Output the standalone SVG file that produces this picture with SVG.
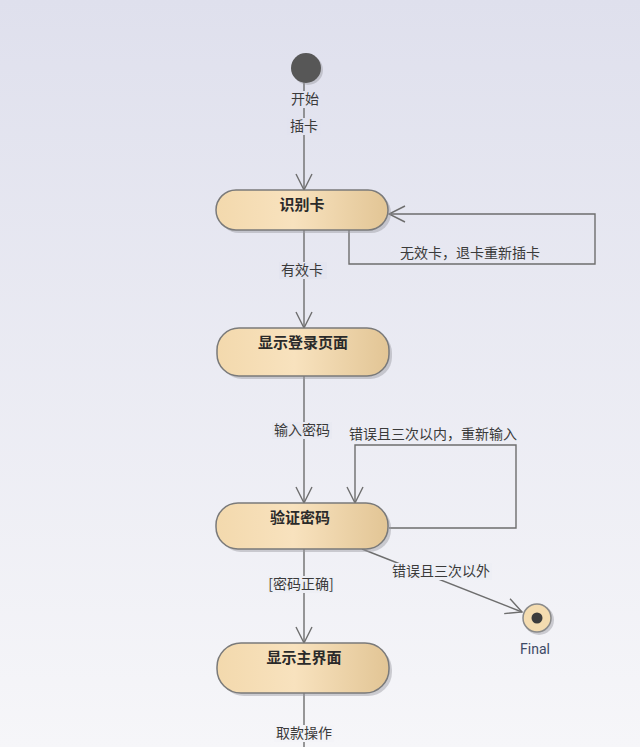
<svg xmlns="http://www.w3.org/2000/svg" width="640" height="747" viewBox="0 0 640 747">
<defs>
<linearGradient id="bg" x1="0" y1="0" x2="0" y2="1">
<stop offset="0" stop-color="#dfe0ed"/>
<stop offset="1" stop-color="#f6f6f9"/>
</linearGradient>
<linearGradient id="nodeFill" x1="0" y1="0" x2="1" y2="0">
<stop offset="0" stop-color="#f3d9ad"/>
<stop offset="0.45" stop-color="#f8e2be"/>
<stop offset="1" stop-color="#e2c595"/>
</linearGradient>
<marker id="arr" viewBox="0 0 20 20" refX="18" refY="10" markerWidth="20" markerHeight="20" markerUnits="userSpaceOnUse" orient="auto">
<path d="M2,2 L18,10 L2,18" fill="none" stroke="#6e6e6e" stroke-width="1.4"/>
</marker>
</defs>
<style>
.node rect.body{fill:url(#nodeFill);stroke:#7a7a7a;stroke-width:1.5}
.node rect.shadow{fill:#9a9aa0;opacity:0.45}
.nt{font-family:"Noto Sans CJK SC","Noto Sans",sans-serif;font-size:15px;font-weight:bold;fill:#2a2a2a;text-anchor:middle}
.lbl{font-family:"Noto Sans CJK SC","Noto Sans",sans-serif;font-size:14px;fill:#3a3a3a;text-anchor:middle}
.conn path,.conn line{fill:none;stroke:#6e6e6e;stroke-width:1.4}
</style>
<rect width="640" height="747" fill="url(#bg)"/>

<g id="connectors" class="conn">
<line x1="304" y1="82" x2="304" y2="190" marker-end="url(#arr)"/>
<path d="M349,230 V264 H595 V214 H389" marker-end="url(#arr)"/>
<line x1="304" y1="230" x2="304" y2="328" marker-end="url(#arr)"/>
<line x1="304" y1="376" x2="304" y2="503" marker-end="url(#arr)"/>
<path d="M389,528 H516 V445 H355 V503" marker-end="url(#arr)"/>
<line x1="362" y1="549" x2="522" y2="612" marker-end="url(#arr)"/>
<line x1="304" y1="549" x2="304" y2="643" marker-end="url(#arr)"/>
<line x1="304" y1="693" x2="304" y2="747"/>
</g>

<g id="labels">
<rect x="288" y="91" width="34" height="17" fill="#e2e3ef"/>
<text class="lbl" x="305" y="104">开始</text>
<rect x="287" y="118" width="34" height="17" fill="#e2e3ef"/>
<text class="lbl" x="304" y="131">插卡</text>
<text class="lbl" x="470" y="258">无效卡，退卡重新插卡</text>
<rect x="279" y="262" width="48" height="17" fill="#e4e5f0"/>
<text class="lbl" x="302" y="275">有效卡</text>
<rect x="272" y="422" width="60" height="17" fill="#e9eaf2"/>
<text class="lbl" x="302" y="435">输入密码</text>
<text class="lbl" x="433" y="439">错误且三次以内，重新输入</text>
<rect x="390" y="563" width="102" height="17" fill="#eeeff5"/>
<text class="lbl" x="441" y="576">错误且三次以外</text>
<rect x="268" y="576" width="66" height="17" fill="#eeeff5"/>
<text class="lbl" x="301" y="589">[密码正确]</text>
<rect x="274" y="725" width="60" height="17" fill="#f4f4f8"/>
<text class="lbl" x="304" y="738">取款操作</text>
</g>

<g id="start">
<circle cx="308" cy="70" r="15" fill="#9a9aa0" opacity="0.45"/>
<circle cx="306" cy="68" r="15" fill="#575757"/>
</g>

<g id="n1" class="node">
<rect class="shadow" x="219" y="193" width="172" height="40" rx="20"/>
<rect class="body" x="216" y="190" width="172" height="40" rx="20"/>
<text class="nt" x="302" y="210">识别卡</text>
</g>

<g id="n2" class="node">
<rect class="shadow" x="220" y="331" width="172" height="48" rx="22"/>
<rect class="body" x="217" y="328" width="172" height="48" rx="22"/>
<text class="nt" x="303" y="348">显示登录页面</text>
</g>

<g id="n3" class="node">
<rect class="shadow" x="219" y="506" width="172" height="46" rx="22"/>
<rect class="body" x="216" y="503" width="172" height="46" rx="22"/>
<text class="nt" x="300" y="523">验证密码</text>
</g>

<g id="n4" class="node">
<rect class="shadow" x="220" y="646" width="172" height="50" rx="24"/>
<rect class="body" x="217" y="643" width="172" height="50" rx="24"/>
<text class="nt" x="304" y="663">显示主界面</text>
</g>

<g id="final">
<circle cx="539" cy="620" r="15" fill="#9a9aa0" opacity="0.45"/>
<circle cx="537" cy="618" r="14" fill="#f4dcb0" stroke="#8a8a8a" stroke-width="1.5"/>
<circle cx="537" cy="618" r="5.5" fill="#3c3c3c"/>
<text x="535" y="654" font-family="Roboto,'Liberation Sans',sans-serif" font-size="14" fill="#3d4a66" text-anchor="middle">Final</text>
</g>
</svg>
